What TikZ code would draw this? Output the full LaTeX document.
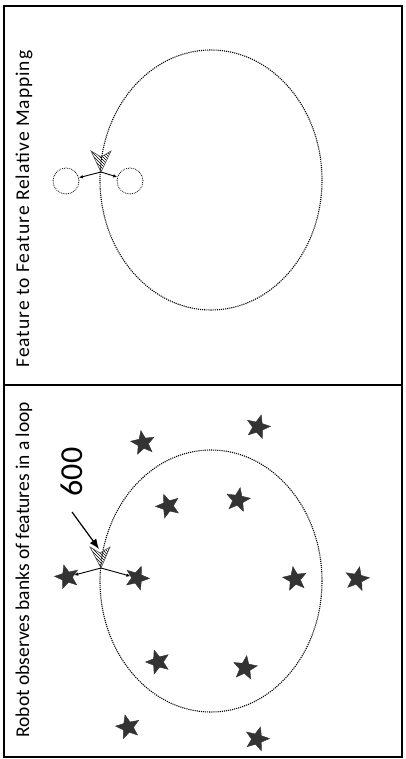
\documentclass[tikz,border=0pt]{standalone}
\usepackage{fontspec}
\setmainfont{Carlito}
\usetikzlibrary{shapes.geometric,arrows.meta,patterns}

\begin{document}
\begin{tikzpicture}[x=1pt, y=-1pt,
    frm/.style={line width=1.6pt},
    loopline/.style={densely dotted, line width=1.1pt},
    feat/.style={star, star points=5, star point ratio=2.3, minimum size=25pt,
                 inner sep=0pt, fill=black!80, draw=black!80},
    ghost/.style={circle, densely dotted, draw, line width=0.8pt, minimum size=26pt, inner sep=0pt},
    robot/.style={pattern=north west lines, draw=black!70, line width=0.6pt},
    lbl/.style={rotate=90, anchor=west, font=\fontsize{19.5}{22}\selectfont},
    arr/.style={-{Latex[length=4pt,width=3.5pt]}, line width=0.9pt}
  ]
  \useasboundingbox (0,0) rectangle (406,759);

  % panels
  \draw[frm] (4,6) rectangle (402,757);
  \draw[frm] (4,385) -- (402,385);
  \node[lbl] (t1) at (24,371) {\addfontfeatures{LetterSpace=5}Feature to Feature Relative Mapping};
  \node[lbl] (t2) at (24,741) {Robot observes banks of features in a loop};

  % upper panel
  \draw[loopline] (211,180) ellipse [x radius=111, y radius=130];
  \draw[robot] (91,151) -- (101,157) -- (111,151) -- (101,172) -- cycle;
  \coordinate (ra) at (101,172);
  \node[ghost] (g1) at (66,181) {};
  \node[ghost] (g2) at (130,181) {};
  \draw[arr] (ra) -- (g1);
  \draw[arr] (ra) -- (g2);

  % lower panel
  \draw[loopline] (211,581) ellipse [x radius=111, y radius=131];
  \draw[robot] (90,547) -- (100,553) -- (110,547) -- (101,568) -- cycle;
  \coordinate (rb) at (101,568);
  \coordinate (rtop) at (99,549);

  \node[feat, rotate=10]  (s1)  at (143,443) {};
  \node[feat, rotate=-15] (s2)  at (258,427) {};
  \node[feat, rotate=20]  (s3)  at (168,506) {};
  \node[feat, rotate=-10] (s4)  at (238,500) {};
  \node[feat, rotate=15]  (s5)  at (67,577) {};
  \node[feat, rotate=-20] (s6)  at (137,578) {};
  \node[feat, rotate=10]  (s7)  at (295,579) {};
  \node[feat, rotate=-12] (s8)  at (357,579) {};
  \node[feat, rotate=18]  (s9)  at (158,662) {};
  \node[feat, rotate=-8]  (s10) at (245,668) {};
  \node[feat, rotate=14]  (s11) at (128,727) {};
  \node[feat, rotate=-16] (s12) at (257,739) {};

  \draw[arr] (rb) -- (s5);
  \draw[arr] (rb) -- (s6);

  \node[rotate=90, font=\fontsize{32}{34}\selectfont] (n600) at (72,472) {600};
  \coordinate (tail) at (72,512);
  \draw[-{Latex[length=10pt,width=8pt]}, line width=1.2pt] (tail) -- (rtop);
\end{tikzpicture}
\end{document}
